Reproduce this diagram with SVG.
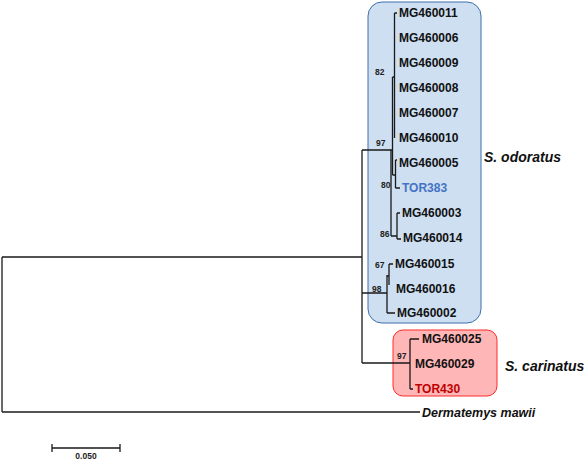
<svg xmlns="http://www.w3.org/2000/svg" width="585" height="460" viewBox="0 0 585 460">
<style>
.leaf{font-family:"Liberation Sans",Arial,sans-serif;font-weight:bold;font-size:12px;fill:#111}
.bs{font-family:"Liberation Sans",Arial,sans-serif;font-weight:bold;font-size:8.5px;fill:#222}
.sp{font-family:"Liberation Sans",Arial,sans-serif;font-weight:bold;font-style:italic;fill:#111}
.br{fill:none;stroke:#1a1a1a;stroke-width:1.3}
</style>
<rect width="585" height="460" fill="#fff"/>
<g id="clade-odoratus-box"><rect x="368" y="2" width="113" height="321" rx="14" fill="#cddff1" stroke="#3f6fab" stroke-width="1"/></g>
<g id="clade-carinatus-box"><rect x="393" y="330" width="104" height="66" rx="10" fill="#ffb6b6" stroke="#ff2a2a" stroke-width="1"/></g>
<g id="connectors" class="br">
<path d="M2,257 V412 M2,257 H362 M2,412 H420"/>
<path d="M362,150 V363 M362,150 H391 M362,293 H387 M362,363 H410"/>
<path d="M391,150 V236 M391,150 H392.5"/>
<path d="M392.5,77 V175"/>
<path d="M394.5,13 V138 M394.5,13 H397 M392.5,77 H394.5"/>
<path d="M392.5,175 H395.5 M395.5,160 V188 M395.5,160 H397 M395.5,188 H400"/>
<path d="M391,236 H397 M397,213 V239 M397,213 H400 M397,239 H401"/>
<path d="M387,276 H389 M389,264 V285 M389,264 H393 M387,275 V313 M387,313 H395"/>
<path d="M410,339 V389 M410,339 H419 M410,389 H413"/>
<path d="M52,448 H120 M52,444 V452 M120,444 V452"/>
</g>
<g id="MG460011"><text class="leaf" x="399" y="17">MG460011</text></g>
<g id="MG460006"><text class="leaf" x="399" y="42">MG460006</text></g>
<g id="MG460009"><text class="leaf" x="399" y="67">MG460009</text></g>
<g id="MG460008"><text class="leaf" x="399" y="92">MG460008</text></g>
<g id="MG460007"><text class="leaf" x="399" y="117">MG460007</text></g>
<g id="MG460010"><text class="leaf" x="399" y="142">MG460010</text></g>
<g id="MG460005"><text class="leaf" x="399" y="167">MG460005</text></g>
<g id="TOR383"><text class="leaf" x="402" y="192" style="fill:#4472c4">TOR383</text></g>
<g id="MG460003"><text class="leaf" x="402" y="217">MG460003</text></g>
<g id="MG460014"><text class="leaf" x="403" y="242">MG460014</text></g>
<g id="MG460015"><text class="leaf" x="395" y="268">MG460015</text></g>
<g id="MG460016"><text class="leaf" x="396" y="293">MG460016</text></g>
<g id="MG460002"><text class="leaf" x="397" y="317">MG460002</text></g>
<g id="MG460025"><text class="leaf" x="422" y="343">MG460025</text></g>
<g id="MG460029"><text class="leaf" x="415" y="368">MG460029</text></g>
<g id="TOR430"><text class="leaf" x="415" y="393" style="fill:#c00000">TOR430</text></g>
<g id="Dermatemys"><text class="sp" x="422" y="417" font-size="12.5">Dermatemys mawii</text></g>
<g id="bootstrap">
<text class="bs" x="375" y="75">82</text>
<text class="bs" x="376" y="146">97</text>
<text class="bs" x="381" y="188">80</text>
<text class="bs" x="380" y="237">86</text>
<text class="bs" x="375" y="268">67</text>
<text class="bs" x="372" y="292">98</text>
<text class="bs" x="397" y="359">97</text>
</g>
<g id="labels">
<text class="sp" x="484" y="162" font-size="14">S. odoratus</text>
<text class="sp" x="505" y="371" font-size="14">S. carinatus</text>
<text class="bs" x="86" y="459" text-anchor="middle">0.050</text>
</g>
</svg>
